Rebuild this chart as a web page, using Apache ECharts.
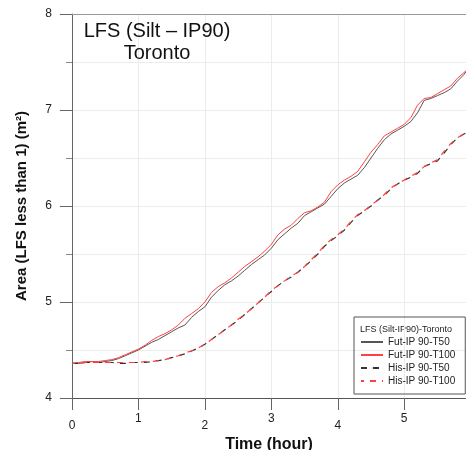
<!DOCTYPE html>
<html>
<head>
<meta charset="utf-8">
<script src="https://cdn.jsdelivr.net/npm/echarts@6/dist/echarts.min.js"></script>
<style>
  html, body { margin: 0; padding: 0; background: #fff; }
  #chart { width: 466px; height: 450px; }
</style>
</head>
<body>
<div id="chart"></div>
<script>
// data (hours, m²)
const times = [0, 0.1, 0.2, 0.3, 0.4, 0.5, 0.6, 0.7, 0.8, 0.9,
  1.0, 1.1, 1.2, 1.3, 1.4, 1.5, 1.6, 1.7, 1.8, 1.9,
  2.0, 2.1, 2.2, 2.3, 2.4, 2.5, 2.6, 2.7, 2.8, 2.9,
  3.0, 3.1, 3.2, 3.3, 3.4, 3.5, 3.6, 3.7, 3.8, 3.9,
  4.0, 4.1, 4.2, 4.3, 4.4, 4.5, 4.6, 4.7, 4.8, 4.9,
  5.0, 5.1, 5.2, 5.3, 5.4, 5.5, 5.6, 5.7, 5.8, 5.9, 5.93]

const futT50 = [4.36, 4.36, 4.37, 4.38, 4.37, 4.38, 4.39, 4.41, 4.44, 4.47,
  4.50, 4.54, 4.58, 4.61, 4.65, 4.69, 4.73, 4.76, 4.84, 4.90,
  4.95, 5.05, 5.12, 5.18, 5.22, 5.27, 5.33, 5.39, 5.44, 5.49,
  5.56, 5.65, 5.71, 5.77, 5.82, 5.90, 5.94, 5.98, 6.02, 6.10,
  6.18, 6.24, 6.28, 6.32, 6.40, 6.50, 6.60, 6.69, 6.75, 6.79,
  6.83, 6.88, 6.97, 7.10, 7.12, 7.15, 7.18, 7.22, 7.30, 7.37, 7.40]

const futT100 = [4.36, 4.37, 4.38, 4.38, 4.38, 4.39, 4.40, 4.42, 4.45, 4.48,
  4.51, 4.55, 4.60, 4.64, 4.67, 4.71, 4.76, 4.83, 4.88, 4.93,
  5.00, 5.10, 5.16, 5.20, 5.25, 5.31, 5.37, 5.42, 5.47, 5.53,
  5.60, 5.70, 5.76, 5.80, 5.87, 5.93, 5.95, 5.99, 6.04, 6.15,
  6.22, 6.27, 6.31, 6.36, 6.46, 6.56, 6.64, 6.73, 6.77, 6.81,
  6.85, 6.92, 7.05, 7.12, 7.13, 7.17, 7.21, 7.25, 7.33, 7.39, 7.41]

const hisT50 = [4.36, 4.36, 4.37, 4.37, 4.37, 4.37, 4.37, 4.36, 4.36, 4.37,
  4.37, 4.37, 4.38, 4.39, 4.40, 4.42, 4.44, 4.46, 4.49, 4.52,
  4.56, 4.61, 4.66, 4.71, 4.76, 4.81, 4.87, 4.93, 4.99, 5.05,
  5.11, 5.17, 5.22, 5.26, 5.31, 5.37, 5.43, 5.50, 5.58, 5.64,
  5.69, 5.75, 5.83, 5.90, 5.95, 6.00, 6.06, 6.11, 6.18, 6.23,
  6.27, 6.30, 6.34, 6.41, 6.44, 6.47, 6.55, 6.64, 6.71, 6.75, 6.76]

const hisT100 = [4.36, 4.36, 4.37, 4.37, 4.37, 4.37, 4.37, 4.37, 4.37, 4.37,
  4.37, 4.38, 4.38, 4.39, 4.40, 4.42, 4.44, 4.47, 4.49, 4.52,
  4.56, 4.61, 4.66, 4.71, 4.76, 4.82, 4.87, 4.93, 4.99, 5.05,
  5.12, 5.17, 5.22, 5.27, 5.31, 5.37, 5.44, 5.51, 5.59, 5.65,
  5.70, 5.76, 5.84, 5.91, 5.95, 6.01, 6.06, 6.12, 6.19, 6.23,
  6.27, 6.31, 6.35, 6.41, 6.45, 6.48, 6.57, 6.65, 6.71, 6.75, 6.77]

const seriesNames = ['Fut-IP 90-T50', 'Fut-IP 90-T100', 'His-IP 90-T50', 'His-IP 90-T100']

const pair = (arr) => times.map((t, i) => [t, arr[i]])

const chart = echarts.init(document.getElementById('chart'))
const font = '"Liberation Sans", Arial, sans-serif'

const option = {
  animation: false,
  backgroundColor: '#fff',
  textStyle: { fontFamily: font },
  title: {
    text: 'LFS (Silt – IP90)\nToronto',
    left: 152,
    top: 15,
    textAlign: 'center',
    textStyle: { fontSize: 20, fontWeight: 'normal', color: '#111', lineHeight: 22, fontFamily: font }
  },
  graphic: [{
    type: 'text',
    left: 360,
    top: 325,
    style: { text: 'LFS (Silt-IP90)-Toronto', fontSize: 9, fill: '#222', fontFamily: font }
  }],
  legend: {
    data: seriesNames,
    orient: 'vertical',
    left: 354,
    top: 317,
    padding: [20, 10, 8, 6],
    borderColor: '#555',
    borderWidth: 1,
    itemWidth: 22,
    itemHeight: 1,
    itemGap: 3,
    textStyle: { fontSize: 10, color: '#222', fontFamily: font }
  },
  grid: { left: 72, right: 0, top: 14, bottom: 52, outerBoundsMode: 'none' },
  xAxis: [{
    type: 'value',
    min: 0,
    max: 5.93,
    interval: 1,
    name: 'Time (hour)',
    nameLocation: 'middle',
    nameGap: 27,
    nameTextStyle: { fontSize: 16, fontWeight: 'bold', color: '#111', fontFamily: font },
    axisLine: { lineStyle: { color: '#555' } },
    axisTick: { length: 12, lineStyle: { color: '#666' } },
    splitLine: { show: true, lineStyle: { color: '#ececec' } },
    axisLabel: {
      margin: 15,
      fontSize: 12,
      color: '#222',
      showMaxLabel: false,
      formatter: (v) => (v % 2 === 0 ? '{lo|' + v + '}' : '{hi|' + v + '}'),
      rich: {
        lo: { fontSize: 12, color: '#222', padding: [7, 0, 0, 0] },
        hi: { fontSize: 12, color: '#222' }
      }
    }
  }, {
    type: 'value',
    position: 'top',
    min: 0,
    max: 5.93,
    axisLine: { show: true, lineStyle: { color: '#999' } },
    axisTick: { show: false },
    axisLabel: { show: false },
    splitLine: { show: false }
  }],
  yAxis: {
    type: 'value',
    min: 4,
    max: 8,
    interval: 1,
    name: 'Area (LFS less than 1) (m²)',
    nameLocation: 'middle',
    nameGap: 43,
    nameTextStyle: { fontSize: 15, fontWeight: 'bold', color: '#111', fontFamily: font },
    axisLine: { show: true, lineStyle: { color: '#666' } },
    axisTick: { length: 12, lineStyle: { color: '#666' } },
    minorTick: { show: true, splitNumber: 2, length: 6, lineStyle: { color: '#888' } },
    splitLine: { show: true, lineStyle: { color: '#ececec' } },
    minorSplitLine: { show: true, lineStyle: { color: '#ececec' } },
    axisLabel: { margin: 20, fontSize: 12, color: '#222' }
  },
  series: [
    {
      name: seriesNames[0], type: 'line', symbol: 'none', data: pair(futT50),
      lineStyle: { color: '#555', width: 1 }, itemStyle: { color: '#555' }
    },
    {
      name: seriesNames[1], type: 'line', symbol: 'none', data: pair(futT100),
      lineStyle: { color: '#ff4040', width: 1 }, itemStyle: { color: '#ff4040' }
    },
    {
      name: seriesNames[2], type: 'line', symbol: 'none', data: pair(hisT50),
      lineStyle: { color: '#333', width: 1.2, type: [6, 6] }, itemStyle: { color: '#333' }
    },
    {
      name: seriesNames[3], type: 'line', symbol: 'none', data: pair(hisT100),
      lineStyle: { color: '#ff4040', width: 1.2, type: [6, 6], dashOffset: 3 }, itemStyle: { color: '#ff4040' }
    }
  ]
}

chart.setOption(option)
</script>
</body>
</html>
